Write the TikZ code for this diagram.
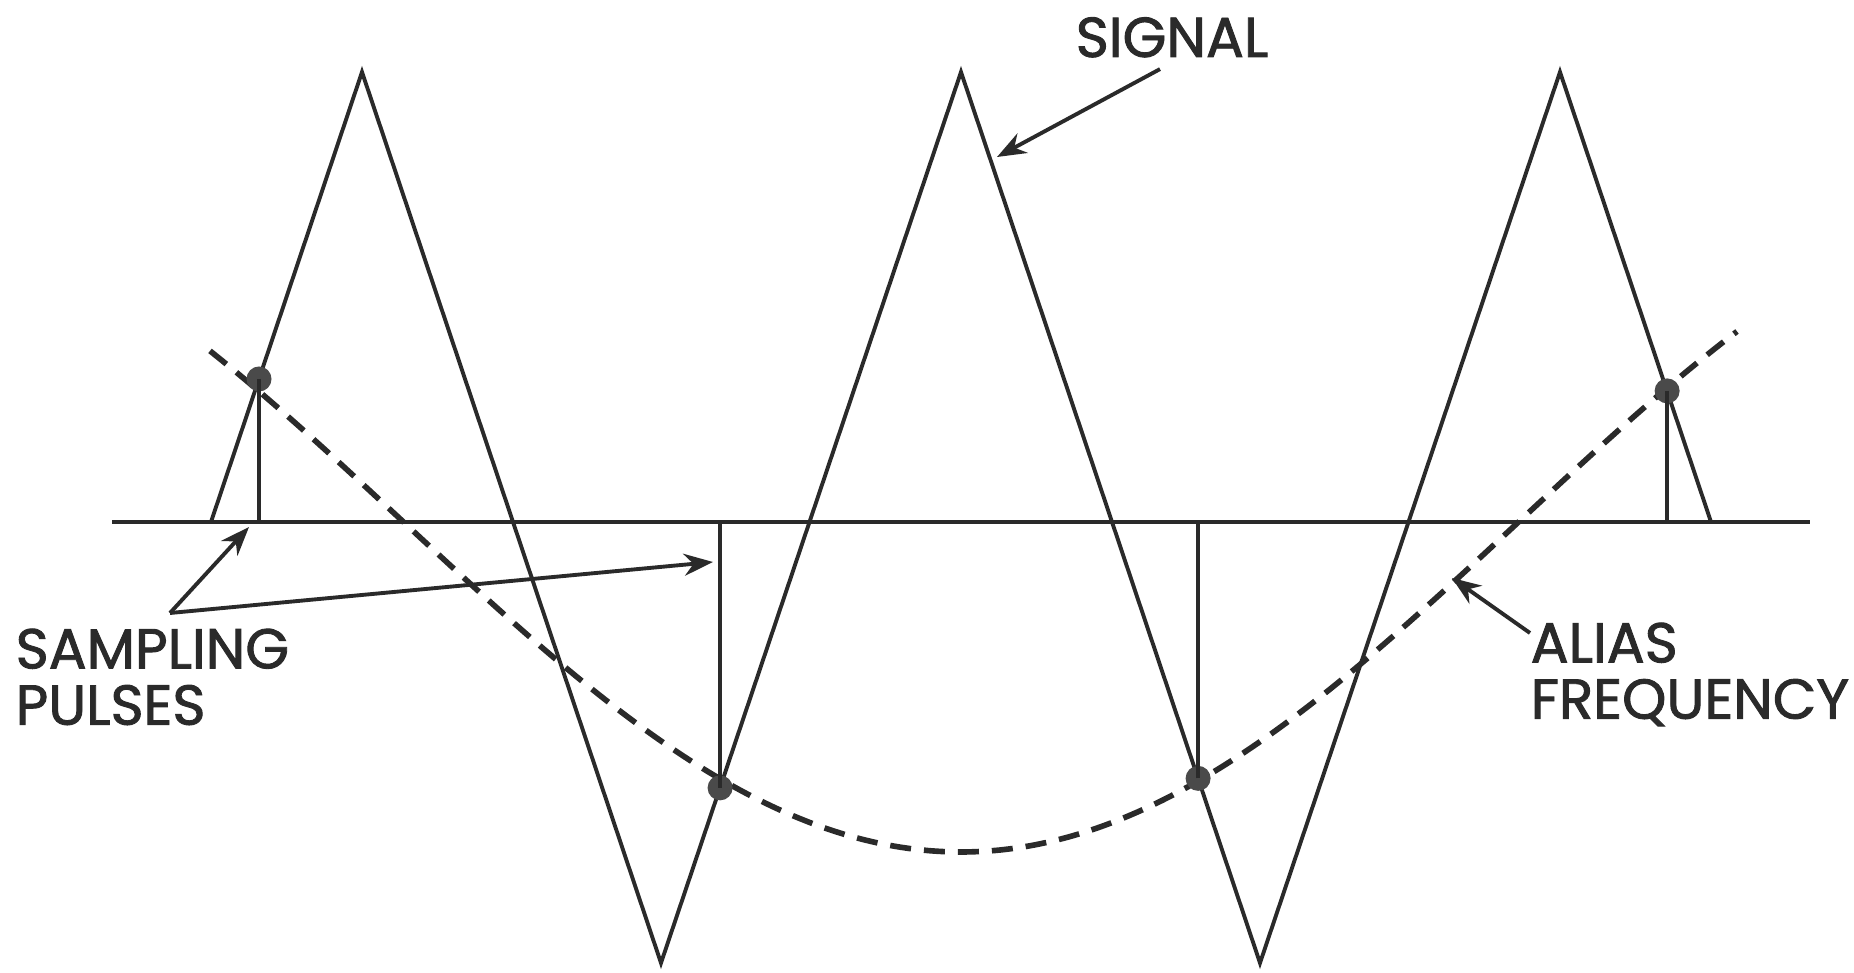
\documentclass[tikz,border=0pt]{standalone}
\usepackage{fontspec}
\setmainfont{Poppins}
\newfontfamily\capfont{Poppins}[FakeBold=1.6]
\usetikzlibrary{arrows.meta,positioning,calc}
\definecolor{InkDark}{HTML}{2A2A2A}
\definecolor{InkDot}{HTML}{4A4A4A}

\begin{document}
\begin{tikzpicture}[
  x=0.01cm, y=-0.01cm,
  sigline/.style={draw=InkDark, line width=1.1pt, line join=miter},
  dashcurve/.style={draw=InkDark, line width=1.6pt, dash pattern=on 0.21cm off 0.13cm},
  sample/.style={circle, fill=InkDot, inner sep=0pt, minimum size=0.25cm},
  arrow/.style={-{Stealth[length=2.9mm, width=2.2mm]}, line width=1.1pt, draw=InkDark},
  caption/.style={font=\capfont\fontsize{16}{16}\selectfont, text=InkDark, inner sep=0pt, align=left}
]
  \fill[white] (0,0) rectangle (1854,973);
  \useasboundingbox (0,0) rectangle (1854,973);

  % axis and signal
  \coordinate (axl) at (112,522);
  \coordinate (axr) at (1810,522);
  \coordinate (s0) at (211,522);
  \coordinate (pk1) at (362,72);
  \coordinate (tr1) at (661,963);
  \coordinate (pk2) at (961,72);
  \coordinate (tr2) at (1260,963);
  \coordinate (pk3) at (1560,72);
  \coordinate (e0) at (1711,522);
  \draw[sigline] (axl) -- (axr);
  \draw[sigline] (s0) -- (pk1) -- (tr1) -- (pk2) -- (tr2) -- (pk3) -- (e0);

  % alias frequency
  \draw[dashcurve] plot[domain=210:1737, samples=90, smooth] (\x, {522 + 330*cos((\x-961)/2230*360)});

  % sampling pulses
  \node[sample] (d1) at (intersection of 259,522--259,0 and s0--pk1) {};
  \node[sample] (d2) at (intersection of 720,522--720,973 and tr1--pk2) {};
  \node[sample] (d3) at (intersection of 1198,522--1198,973 and pk2--tr2) {};
  \node[sample] (d4) at (intersection of 1667,522--1667,0 and pk3--e0) {};
  \foreach \d in {d1,d2,d3,d4}
    \draw[sigline] (\d.center) -- (\d.center |- axl);

  % labels
  \node[caption, anchor=base] (signal) at (1172,57) {SIGNAL};
  \node[caption, anchor=north west] (sampling) at (15,628) {SAMPLING\\PULSES};
  \node[caption, anchor=north west] (aliaslbl) at (1530,622) {ALIAS\\FREQUENCY};

  \coordinate (sigtip) at (997,157);
  \coordinate (vtx) at (170,613);
  \coordinate (tip1) at (249,527);
  \coordinate (tip2) at (713,562);
  \coordinate (aliastip) at (1452,578);

  \draw[arrow] ([xshift=-0.12cm, yshift=-0.11cm]signal.south) -- (sigtip);
  \draw[arrow] (vtx) -- (tip1);
  \draw[arrow] (vtx) -- (tip2);
  \draw[arrow] ([yshift=-0.11cm]aliaslbl.north west) -- (aliastip);
\end{tikzpicture}
\end{document}
